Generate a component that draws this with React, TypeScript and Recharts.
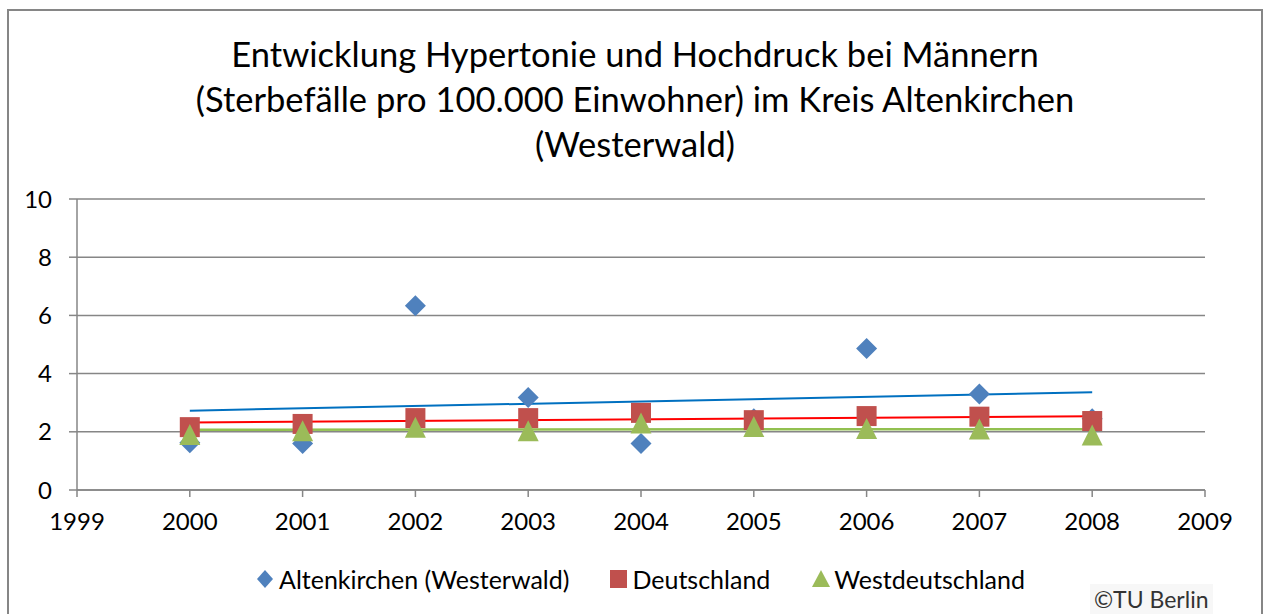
import React from "react";
import {
  ComposedChart,
  Scatter,
  XAxis,
  YAxis,
  CartesianGrid,
  ReferenceLine,
} from "recharts";

const years = [2000, 2001, 2002, 2003, 2004, 2005, 2006, 2007, 2008];
const altenkirchen = [1.62, 1.6, 6.33, 3.18, 1.6, 2.45, 4.86, 3.3, 2.45];
const deutschland = [2.16, 2.27, 2.47, 2.47, 2.65, 2.4, 2.54, 2.52, 2.37];
const westdeutschland = [1.91, 2.04, 2.16, 2.04, 2.3, 2.18, 2.11, 2.1, 1.89];
const xTicks = [1999, 2000, 2001, 2002, 2003, 2004, 2005, 2006, 2007, 2008, 2009];
const yTicks = [0, 2, 4, 6, 8, 10];
const titleLines = [
  "Entwicklung Hypertonie und Hochdruck bei Männern",
  "(Sterbefälle pro 100.000 Einwohner) im Kreis Altenkirchen",
  "(Westerwald)",
];
const seriesNames = ["Altenkirchen (Westerwald)", "Deutschland", "Westdeutschland"];

const toPoints = (vals: number[]) => years.map((x, i) => ({ x, y: vals[i] }));

// Linear trend (least squares), as Excel's linear trendline
const trend = (vals: number[]) => {
  const n = years.length;
  const mx = years.reduce((a, b) => a + b, 0) / n;
  const my = vals.reduce((a, b) => a + b, 0) / n;
  let num = 0;
  let den = 0;
  years.forEach((x, i) => {
    num += (x - mx) * (vals[i] - my);
    den += (x - mx) * (x - mx);
  });
  const slope = num / den;
  const f = (x: number) => my + slope * (x - mx);
  const x0 = years[0];
  const x1 = years[n - 1];
  return [
    { x: x0, y: f(x0) },
    { x: x1, y: f(x1) },
  ];
};

const BLUE = "#4F81BD";
const RED = "#C0504D";
const GREEN = "#9BBB59";
const GRAY = "#868686";
const FONT = "Lato, 'Open Sans', sans-serif";

const Diamond = (props: any) => {
  const { cx, cy } = props;
  const r = 10.5;
  return (
    <polygon
      points={`${cx},${cy - r} ${cx + r},${cy} ${cx},${cy + r} ${cx - r},${cy}`}
      fill={BLUE}
    />
  );
};
const Square = (props: any) => {
  const { cx, cy } = props;
  const h = 10;
  return <rect x={cx - h} y={cy - h} width={2 * h} height={2 * h} fill={RED} />;
};
const Triangle = (props: any) => {
  const { cx, cy } = props;
  const h = 10.5;
  return (
    <polygon
      points={`${cx},${cy - h} ${cx + h},${cy + h} ${cx - h},${cy + h}`}
      fill={GREEN}
    />
  );
};

export default function App() {
  return (
    <div
      style={{
        position: "absolute",
        left: 0,
        top: 0,
        width: 1266,
        height: 614,
        overflow: "hidden",
        background: "#fff",
        fontFamily: FONT,
      }}
    >
      <div
        style={{
          position: "absolute",
          left: 7,
          top: 9,
          width: 1252,
          height: 640,
          borderTop: `2px solid ${GRAY}`,
          borderLeft: `2px solid ${GRAY}`,
          borderRight: `2px solid ${GRAY}`,
        }}
      />
      <div
        style={{
          position: "absolute",
          left: 0,
          top: 31,
          width: 1270,
          textAlign: "center",
          fontSize: 34.5,
          lineHeight: "45px",
          color: "#000",
        }}
      >
        {titleLines.map((t) => (
          <div key={t}>{t}</div>
        ))}
      </div>
      <div style={{ position: "absolute", left: 0, top: 0 }}>
        <ComposedChart
          width={1266}
          height={614}
          margin={{ top: 199, right: 61, bottom: 84, left: 7 }}
        >
          <CartesianGrid vertical={false} stroke={GRAY} strokeWidth={1.5} />
          <XAxis
            type="number"
            dataKey="x"
            domain={[1999, 2009]}
            ticks={xTicks}
            interval={0}
            height={40}
            stroke={GRAY}
            strokeWidth={1.5}
            tickSize={7}
            tickMargin={16}
            tick={{ fill: "#000", fontSize: 24, fontFamily: FONT }}
          />
          <YAxis
            type="number"
            dataKey="y"
            domain={[0, 10]}
            ticks={yTicks}
            interval={0}
            width={70}
            stroke={GRAY}
            strokeWidth={1.5}
            tickSize={8}
            tickMargin={17}
            tick={{ fill: "#000", fontSize: 24, fontFamily: FONT }}
          />
          <Scatter
            name={seriesNames[0]}
            data={toPoints(altenkirchen)}
            shape={Diamond}
            isAnimationActive={false}
          />
          <Scatter
            name={seriesNames[1]}
            data={toPoints(deutschland)}
            shape={Square}
            isAnimationActive={false}
          />
          <Scatter
            name={seriesNames[2]}
            data={toPoints(westdeutschland)}
            shape={Triangle}
            isAnimationActive={false}
          />
          <ReferenceLine
            segment={trend(altenkirchen)}
            stroke="#0070C0"
            strokeWidth={2}
            ifOverflow="visible"
          />
          <ReferenceLine
            segment={trend(deutschland)}
            stroke="#FF0000"
            strokeWidth={2}
            ifOverflow="visible"
          />
          <ReferenceLine
            segment={trend(westdeutschland)}
            stroke="#92C050"
            strokeWidth={2.5}
            ifOverflow="visible"
          />
        </ComposedChart>
      </div>
      <div
        style={{
          position: "absolute",
          left: 254,
          top: 564,
          display: "flex",
          alignItems: "center",
          fontSize: 25,
          color: "#000",
          whiteSpace: "nowrap",
        }}
      >
        <svg width={22} height={30}>
          <polygon points="11,6 19,15 11,24 3,15" fill={BLUE} />
        </svg>
        <span style={{ marginLeft: 3, marginRight: 40 }}>{seriesNames[0]}</span>
        <svg width={20} height={30}>
          <rect x={1} y={6} width={17} height={18} fill={RED} />
        </svg>
        <span style={{ marginLeft: 3, marginRight: 40 }}>{seriesNames[1]}</span>
        <svg width={22} height={30}>
          <polygon points="11,6 20,23 2,23" fill={GREEN} />
        </svg>
        <span style={{ marginLeft: 2 }}>{seriesNames[2]}</span>
      </div>
      <div
        style={{
          position: "absolute",
          left: 1090,
          top: 584,
          padding: "0px 4px",
          background: "#f7f7f7",
          color: "#333",
          fontSize: 23,
          lineHeight: "30px",
        }}
      >
        ©TU Berlin
      </div>
    </div>
  );
}
